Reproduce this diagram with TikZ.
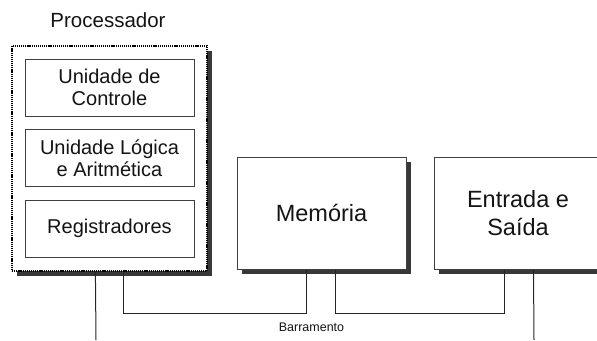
\documentclass[tikz,border=0pt]{standalone}
\usepackage{fontspec}
\setmainfont{Liberation Sans}
\usetikzlibrary{shadows,calc}
\begin{document}
\begin{tikzpicture}[x=1pt,y=-1pt,
  box/.style={draw=black!75, line width=1pt, fill=white, inner sep=0pt, align=center, text=black!92},
  shad/.style={drop shadow={shadow xshift=5pt, shadow yshift=-5pt, fill=black!78, opacity=1}},
  inner/.style={box, minimum width=169pt, minimum height=57pt, font=\fontsize{20}{22.5}\selectfont},
  big/.style={box, shad, minimum width=169pt, minimum height=112pt, font=\fontsize{23.5}{28}\selectfont},
  bus/.style={draw=black!85, line width=1pt},
  lbl/.style={text=black!92, inner sep=0pt}]
\useasboundingbox (0,0) rectangle (597,340);
% processor
\node[box, draw=black, line width=1.2pt, dash pattern=on 1.2pt off 0.9pt, shad, minimum width=195pt, minimum height=225pt] (proc) at (109.5,158.5) {};
\node[lbl, font=\fontsize{20.5}{24}\selectfont] (title) at (108,20) {Processador};
\node[inner] (cu) at (109.5,87.5) {Unidade de\\Controle};
\node[inner] (ula) at (109.5,158) {Unidade Lógica\\e Aritmética};
\node[inner] (reg) at (109.5,228.5) {Registradores};
% memory and I/O
\node[big] (mem) at (321.5,213) {Memória};
\node[big, minimum width=168pt] (io) at (518,213) {Entrada e\\Saída};
% bus
\node[lbl, font=\fontsize{12.5}{15}\selectfont] (barr) at (311.5,327) {Barramento};
\coordinate (pend) at (96,340);
\coordinate (iend) at (534,340);
\draw[bus] ($(proc.south west)+(84,0)$) -- (pend);
\draw[bus] ($(proc.south west)+(112,0)$) |- ($(mem.south west)+(70,44)$) -- ($(mem.south west)+(70,0)$);
\draw[bus] ($(mem.south west)+(99,0)$) |- ($(io.south west)+(71,44)$) -- ($(io.south west)+(71,0)$);
\draw[bus] ($(io.south west)+(100,0)$) -- (iend);
\end{tikzpicture}
\end{document}
